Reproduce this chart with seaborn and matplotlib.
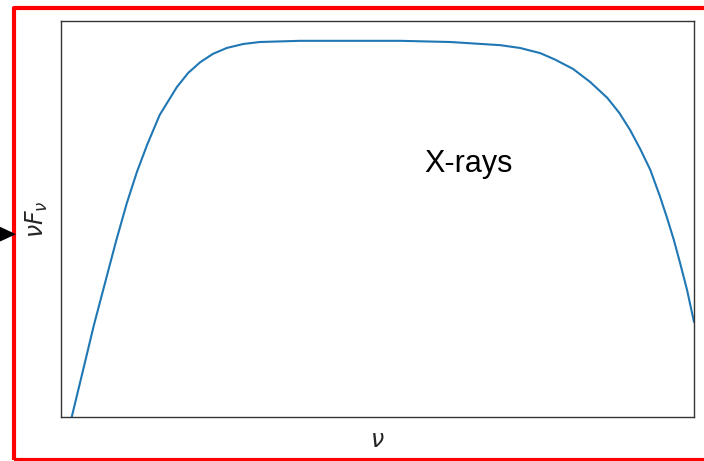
import matplotlib
matplotlib.use("Agg")
import matplotlib.pyplot as plt
from matplotlib.patches import Rectangle, Polygon
import seaborn as sns
import pandas as pd

# Schematic X-ray spectrum in arbitrary log units
log_nu = [0.17, 0.35, 0.52, 0.70, 0.87, 1.04, 1.20, 1.36, 1.56, 1.83, 2.01,
          2.20, 2.40, 2.62, 2.88, 3.14, 3.78, 4.57, 5.36, 6.15, 6.94, 7.25,
          7.57, 7.80, 8.09, 8.36, 8.63, 8.82, 8.99, 9.15, 9.31, 9.46, 9.57,
          9.68, 9.78, 9.89, 10.00]
log_nufnu = [0.00, 1.19, 2.32, 3.41, 4.44, 5.40, 6.19, 6.87, 7.63, 8.33, 8.69,
             8.96, 9.17, 9.32, 9.42, 9.47, 9.50, 9.50, 9.50, 9.47, 9.39, 9.32,
             9.19, 9.03, 8.79, 8.46, 8.06, 7.68, 7.25, 6.77, 6.24, 5.58, 5.05,
             4.48, 3.89, 3.21, 2.40]

label_text = "X-rays"
label_pos = (6.43, 6.19)

df = pd.DataFrame({"nu": log_nu, "nufnu": log_nufnu})

sns.set_style("white")
plt.rcParams["font.family"] = ["DejaVu Sans"]

fig = plt.figure(figsize=(7.04, 4.61), dpi=100)
ax = fig.add_axes([0.0866, 0.0954, 0.8992, 0.859])

sns.lineplot(data=df, x="nu", y="nufnu", ax=ax, color="#1f77b4",
             linewidth=1.5, sort=False, estimator=None)

ax.set_xlim(0, 10)
ax.set_ylim(0, 10)
ax.set_xticks([])
ax.set_yticks([])
for s in ax.spines.values():
    s.set_color("#333333")
    s.set_linewidth(1.0)

ax.set_xlabel(r"$\nu$", fontsize=17, labelpad=8)
ax.set_ylabel(r"$\nu F_\nu$", fontsize=17, labelpad=8)

ax.text(label_pos[0], label_pos[1], label_text, ha="center", va="baseline",
        fontsize=22, family=["Liberation Sans", "DejaVu Sans"], color="black")

# red frame around the panel
fig.add_artist(Rectangle((0.0199, 0.002), 1.0, 0.9815, transform=fig.transFigure,
                         fill=False, edgecolor="red", linewidth=3.0,
                         joinstyle="round", clip_on=False))
# pointer arrowhead on the left edge
fig.add_artist(Polygon([(0.0, 0.508), (0.0227, 0.492), (0.0, 0.476)],
                       closed=True, transform=fig.transFigure,
                       facecolor="black", edgecolor="none"))

fig.savefig("out.png", dpi=100)
